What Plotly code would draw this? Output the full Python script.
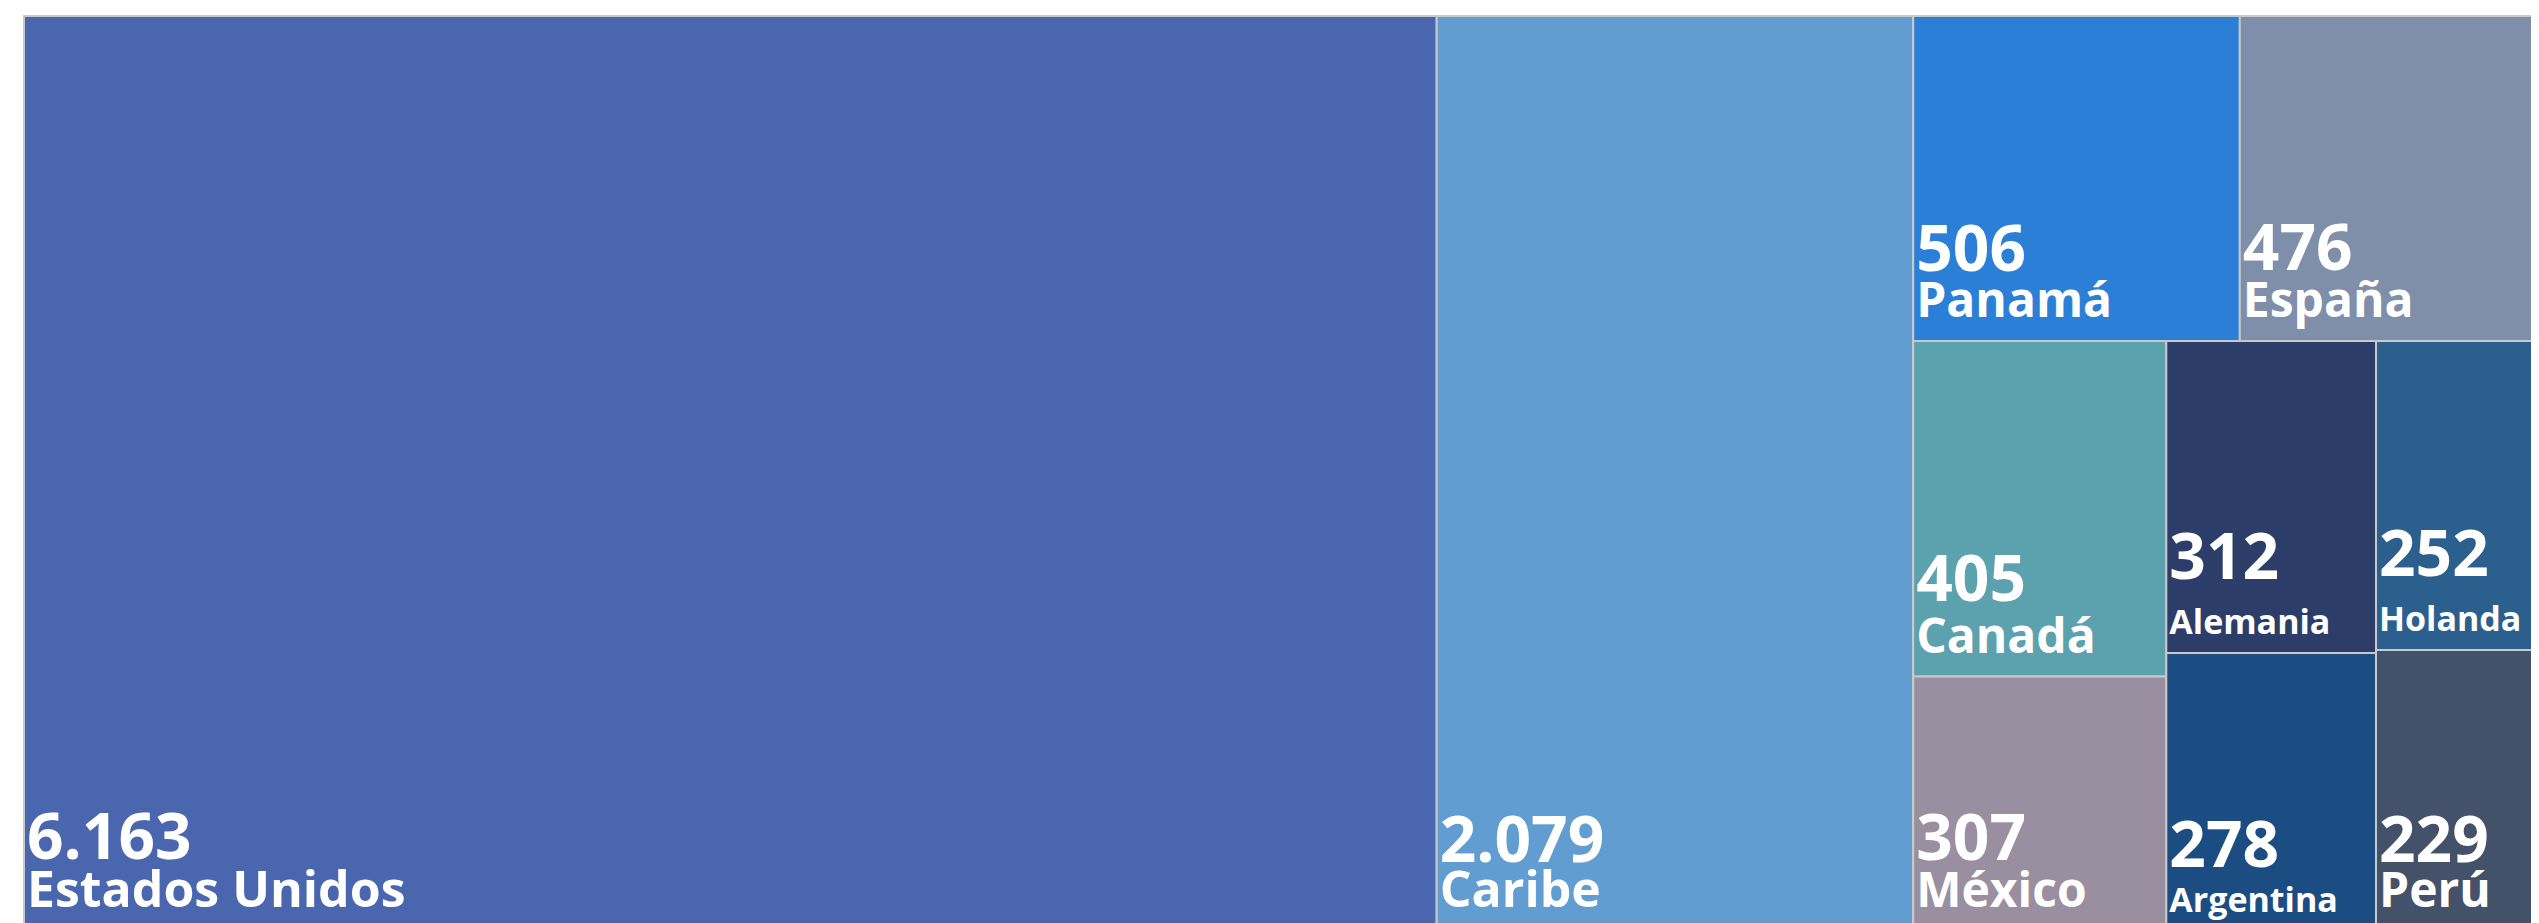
import plotly.graph_objects as go

# datos por país (hoja del treemap)
paises = ["Estados Unidos", "Caribe", "Panamá", "España", "Canadá", "México",
          "Alemania", "Argentina", "Holanda", "Perú"]
valores = [6163, 2079, 506, 476, 405, 307, 312, 278, 252, 229]
colores = ["#4A66AE", "#629DD1", "#2B7FD6", "#7F8FA9", "#5BA2AE", "#9A8FA0",
           "#2D3D69", "#1B4C82", "#2B5F8E", "#435268"]
hoja_ids = ["eu", "caribe", "panama", "espana", "canada", "mexico",
            "alemania", "argentina", "holanda", "peru"]
hoja_padres = ["total", "total", "fila1", "fila1", "col1", "col1",
               "col2", "col2", "col3", "col3"]
tam_nombre = [50, 50, 48, 48, 48, 48, 34, 34, 34, 48]
interlinea = [37, 35, 35, 36, 40, 36, 42, 35, 42, 35]

# nodos intermedios solo para forzar la disposición
grupo_ids = ["total", "resto", "fila1", "fila2", "col1", "col2", "col3"]
grupo_padres = ["", "total", "resto", "resto", "fila2", "fila2", "fila2"]


def miles(v):
    return f"{v:,}".replace(",", ".")


textos = [
    f"<span style='font-size:64px'><b>{miles(v)}</b></span><br>"
    f"<span style='font-size:{s}px'><b>{p}</b></span>"
    f"<span style='font-size:{s + 22}px'>\u00a0</span>"
    for p, v, s in zip(paises, valores, tam_nombre)
]

ids = grupo_ids[:1] + hoja_ids[:2] + grupo_ids[1:] + hoja_ids[2:]
parents = grupo_padres[:1] + hoja_padres[:2] + grupo_padres[1:] + hoja_padres[2:]
labels = ids
values = [0] + valores[:2] + [0] * 6 + valores[2:]
text = [""] + textos[:2] + [""] * 6 + textos[2:]
color = ["#ffffff"] + colores[:2] + ["#ffffff"] * 6 + colores[2:]
tam_base = [36] + interlinea[:2] + [36] * 6 + interlinea[2:]

fig = go.Figure(go.Treemap(
    ids=ids,
    labels=labels,
    parents=parents,
    values=values,
    text=text,
    texttemplate="%{text}",
    textposition="bottom left",
    textfont=dict(family="Open Sans", size=tam_base, color="white"),
    branchvalues="remainder",
    sort=False,
    marker=dict(colors=color, line=dict(color="#c9c9c9", width=2),
                pad=dict(t=0, l=0, r=0, b=0)),
    tiling=dict(packing="slice-dice", pad=0),
    pathbar=dict(visible=False),
    hoverinfo="skip",
))

fig.update_layout(
    width=2539, height=923,
    margin=dict(l=16, t=8, r=0, b=0),
    paper_bgcolor="white",
    showlegend=False,
)

fig.write_html("out.html")
